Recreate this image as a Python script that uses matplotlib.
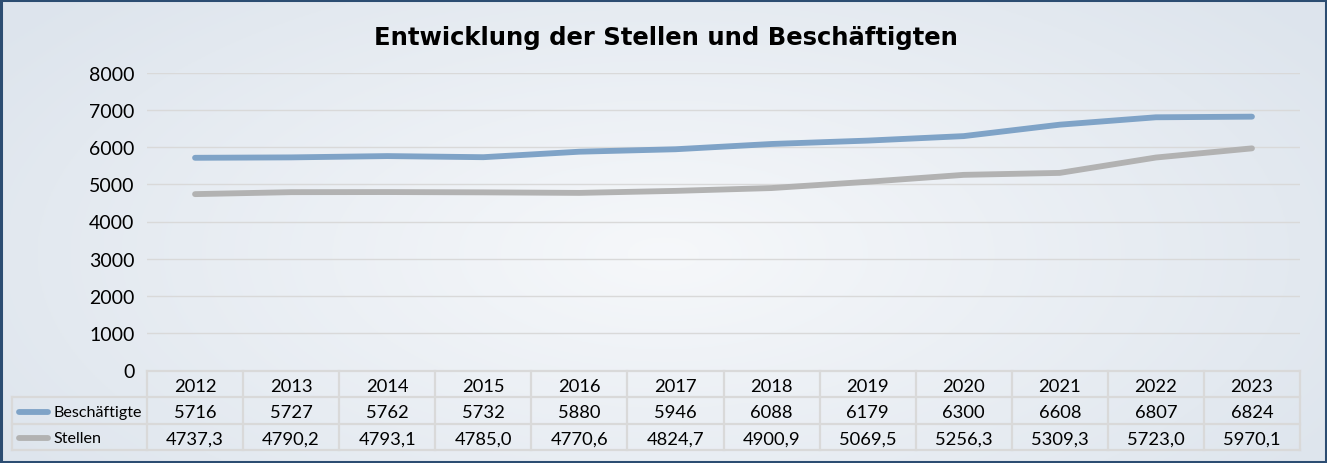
import numpy as np
import matplotlib.pyplot as plt
from matplotlib.patches import Rectangle

# Daten
jahre = [2012, 2013, 2014, 2015, 2016, 2017, 2018, 2019, 2020, 2021, 2022, 2023]
beschaeftigte = [5716, 5727, 5762, 5732, 5880, 5946, 6088, 6179, 6300, 6608, 6807, 6824]
stellen = [4737.3, 4790.2, 4793.1, 4785.0, 4770.6, 4824.7, 4900.9, 5069.5, 5256.3, 5309.3, 5723.0, 5970.1]
y_ticks = [0, 1000, 2000, 3000, 4000, 5000, 6000, 7000, 8000]

BLAU = "#7fa3c7"
GRAU = "#b2b2b2"
GITTER = "#d9d9d9"
FONT = "Lato"

W, H = 1327, 464
fig = plt.figure(figsize=(W / 100, H / 100), dpi=100)

# Hintergrund mit leichtem Verlauf
bg = fig.add_axes([0, 0, 1, 1], zorder=-10)
yy, xx = np.mgrid[0:1:200j, 0:1:600j]
r = np.sqrt(((xx - 0.5) / 0.6) ** 2 + ((yy - 0.55) / 0.8) ** 2)
r = np.clip(r, 0, 1)
c0 = np.array([0.965, 0.972, 0.982])
c1 = np.array([0.870, 0.898, 0.930])
img = c0[None, None, :] * (1 - r[..., None]) + c1[None, None, :] * r[..., None]
bg.imshow(img, extent=[0, 1, 0, 1], aspect="auto")
bg.set_xlim(0, 1); bg.set_ylim(0, 1)
bg.axis("off")
bg.add_patch(Rectangle((0.001, 0.002), 0.998, 0.995, fill=False,
                       edgecolor="#2c4d72", lw=2.2, transform=bg.transAxes))

# Hauptdiagramm
L, R = 147, 1300
T, B = 74, 371
ax = fig.add_axes([L / W, 1 - B / H, (R - L) / W, (B - T) / H])
ax.set_facecolor("none")
x = np.arange(len(jahre))
ax.plot(x, beschaeftigte, color=BLAU, lw=4.2, solid_capstyle="round", solid_joinstyle="round")
ax.plot(x, stellen, color=GRAU, lw=4.2, solid_capstyle="round", solid_joinstyle="round")
ax.set_xlim(-0.5, len(jahre) - 0.5)
ax.set_ylim(0, 8000)
ax.set_yticks(y_ticks)
ax.set_yticklabels([str(v) for v in y_ticks], fontsize=14, family=FONT)
ax.set_xticks([])
ax.tick_params(axis="y", length=0, pad=9)
for s in ax.spines.values():
    s.set_visible(False)
for v in y_ticks[1:]:
    ax.axhline(v, color=GITTER, lw=1, zorder=0)

fig.text(666 / W, 1 - 38 / H, "Entwicklung der Stellen und Beschäftigten",
         ha="center", va="center", fontsize=17.5, fontweight="bold", family="DejaVu Sans")

# Datentabelle
TL, TT, TB = 12, 372, 451
ncol = len(jahre)
colw = (R - L) / ncol
lab_w = (L - TL) / colw
tab = fig.add_axes([TL / W, 1 - TB / H, (R - TL) / W, (TB - TT) / H])
tab.set_xlim(-0.5 - lab_w, ncol - 0.5)
tab.set_ylim(0, 3)
tab.axis("off")
lw_t = 1.6
# horizontale Linien
tab.plot([-0.5, ncol - 0.5], [3, 3], color=GITTER, lw=lw_t, clip_on=False)
for yv in [0, 1, 2]:
    tab.plot([-0.5 - lab_w, ncol - 0.5], [yv, yv], color=GITTER, lw=lw_t, clip_on=False)
# vertikale Linien
tab.plot([-0.5 - lab_w] * 2, [0, 2], color=GITTER, lw=lw_t, clip_on=False)
for i in range(ncol + 1):
    tab.plot([i - 0.5] * 2, [0, 3], color=GITTER, lw=lw_t, clip_on=False)

fs = 13.2
for i, j in enumerate(jahre):
    tab.text(i, 2.42, str(j), ha="center", va="center", fontsize=fs, family=FONT)
    tab.text(i, 1.45, str(beschaeftigte[i]), ha="center", va="center", fontsize=fs, family=FONT)
    tab.text(i, 0.45, f"{stellen[i]:.1f}".replace(".", ","), ha="center", va="center",
             fontsize=fs, family=FONT)

for yv, name, col in [(1.45, "Beschäftigte", BLAU), (0.45, "Stellen", GRAU)]:
    x0 = -0.5 - lab_w
    tab.plot([x0 + 0.07, x0 + 0.37], [yv, yv], color=col, lw=4.2, solid_capstyle="round")
    tab.text(x0 + 0.43, yv, name, ha="left", va="center", fontsize=11.6, family=FONT)

fig.savefig("out.png", dpi=100)
